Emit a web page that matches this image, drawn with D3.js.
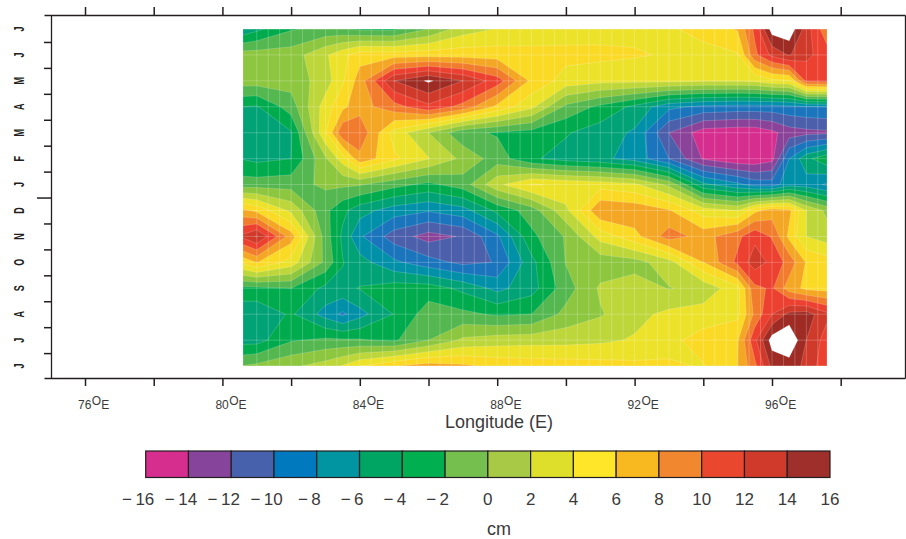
<!DOCTYPE html>
<html>
<head>
<meta charset="utf-8">
<script src="https://cdn.jsdelivr.net/npm/d3@7"></script>
<style>
body { margin: 0; background: #fff; }
text { font-family: "Liberation Sans", sans-serif; fill: #3a3a3a; }
</style>
</head>
<body>
<div id="chart"></div>
<script>
// longitude of each grid column (degrees E)
var lons = [80.6, 81, 82, 83, 83.5, 84, 85, 86, 87, 88, 89, 90, 91, 92, 93, 94, 95, 95.5, 96, 96.5, 97, 97.6];

// sea level anomaly in cm, one row per month
var jul2 = [-7.5, -6.5, -4.2, -3.5, -3.7, -4.4, -4.5, -2, 1, 2.1, 2.5, 3, 3.2, 3.5, 3.8, 4.5, 6.2, 10.5, 17, 17.5, 13, 8.5];
var jun2 = [-1, -1, -1, 1.7, 3.4, 5.2, 5.1, 5.2, 5.2, 5, 4.8, 4.6, 4.5, 4.2, 3.8, 3.5, 3.8, 9.5, 12.5, 14.2, 12.5, 11];
var may = [-1, -1, -1.2, 1, 3.7, 7, 14, 16.3, 14, 11, 5.5, 3.2, 2.6, 2.5, 2.5, 2.2, 2.2, 2.4, 3.5, 3.8, 10.5, 10.8];
var apr = [-6, -6.2, -3, 3, 5.5, 7.2, 9.2, 11.5, 9.3, 5.5, 2.5, -2.5, -4.5, -6.5, -9.5, -10.5, -10.8, -10.8, -10.8, -10.5, -10.2, -10];
var mar = [-6.8, -6.8, -6.2, 3.8, 9.6, 9.5, 3.2, 0, -3.5, -4.2, -4.8, -5.8, -7, -8.3, -14, -17, -17.4, -17.4, -16.5, -15, -14.6, -14.4];
var feb = [-6.1, -6.5, -6, -0.3, 3, 7.4, 4.4, 2.1, -0.5, -3, -5.7, -6.8, -7.5, -8.8, -12, -16.2, -17.5, -17.5, -16.6, -10, -6.6, -4.5];
var jan = [-3, -3, -2.8, -1.6, -1.6, -1.8, -3.3, -4.5, -3, 1.5, 4.2, 3.6, 3.2, 2.4, -0.5, -7.5, -9.5, -10.8, -11, -8.8, -9, -10.3];
var dec = [6.5, 5.5, 1.5, -3.5, -5.5, -7.2, -9, -9.8, -8.8, -5.5, -3, 1.5, 7.8, 7.5, 6.2, 3, 2, 5.5, 7, 6.5, 2, -0.5];
var nov = [12.5, 14.2, 7, -3, -6.4, -9.7, -13, -14.8, -13.8, -10.4, -4.5, -1.8, 2.8, 5.3, 9, 7.2, 9.5, 11.5, 9.8, 5.5, 2, 1];
var oct = [4.5, 6.1, 3.2, -2.5, -5.9, -7.2, -9.6, -11.2, -12.5, -11.9, -6.6, -1.9, -1.2, -0.8, 1.2, 6, 10.5, 13, 11.5, 9.2, 5.8, 5];
var sep = [-4.5, -4.5, -4, -6.5, -6.5, -5.9, -5, -5, -6.5, -8.6, -6.8, -2.9, 0.3, 1, -0.1, 0.6, 3.4, 9.5, 10.3, 7, 5.5, 5.2];
var aug = [-7.5, -7.5, -5.7, -8.8, -10.4, -8.7, -5.9, -3, -3.5, -4.3, -4, -1.4, -0.2, 1.4, 2.5, 3, 3.5, 8.5, 12, 14.6, 15, 12.5];
var jul = [-6.8, -6.8, -4.2, -3.6, -3.7, -3.8, -4.3, -2, 0.4, 1, 1.2, 1.3, 1.6, 2.2, 3.5, 4.8, 5.8, 11.5, 17, 18, 14, 11];
var jun = [-1.9, -1.5, -0.4, 0.9, 2.2, 3.9, 5.9, 7, 6.4, 5.5, 5.2, 5, 4.8, 4.5, 4.2, 3.9, 6, 9.5, 14.5, 15, 13.5, 10.5];

// rows from the top of the plot down
var rows = [jul2, jun2, may, apr, mar, feb, jan, dec, nov, oct, sep, aug, jul, jun];

// month labels from the bottom of the plot up
var monthLabels = ["J", "J", "A", "S", "O", "N", "D", "J", "F", "M", "A", "M", "J", "J"];
var lonTicks = [76, 78, 80, 82, 84, 86, 88, 90, 92, 94, 96, 98];
var lonLabels = [76, 80, 84, 88, 92, 96];
var legendTicks = [-16, -14, -12, -10, -8, -6, -4, -2, 0, 2, 4, 6, 8, 10, 12, 14, 16];

// contour levels and fills of the map, white above the top level
var levels = [-18, -16, -14, -12, -10, -8, -6, -4, -2, 0, 2, 4, 6, 8, 10, 12, 14, 16];
var mapColors = ["#d62e8f", "#8a4398", "#4b5fab", "#1b75bc", "#0090a8", "#00a276", "#00ab4e", "#54b74f", "#8dc63f",
    "#bdd63a", "#ece22a", "#fbda26", "#f4a724", "#f27c2e", "#ec4130", "#d03a2a", "#9e2c25", "#ffffff"];
var legendColors = ["#d62e8f", "#86459a", "#4761ad", "#0079bf", "#0095a0", "#00a463", "#00af50", "#74bf4e",
    "#a8c945", "#dddf2a", "#ffe628", "#f8b81f", "#f1872e", "#ea472f", "#d03a2a", "#9e2f2a"];

var width = 906, height = 539;

var svg = d3.select("#chart").append("svg")
    .attr("width", width)
    .attr("height", height)
    .style("display", "block");

// scales of the plot frame
var x = d3.scaleLinear().domain([74.806, 99.872]).range([44, 905]);
var y = d3.scaleLinear().domain([-0.46, 13.54]).range([378, 15]);

// d3.contours puts value i at i + 0.5, so map grid coords to pixels through the scales
var nx = lons.length, ny = rows.length;
var gridX = d3.scaleLinear()
    .domain([0].concat(lons.map(function (d, i) { return i + 0.5; }), [nx]))
    .range([x(lons[0])].concat(lons.map(function (d) { return x(d); }), [x(lons[nx - 1])]));
var gridY = d3.scaleLinear()
    .domain([0].concat(rows.map(function (d, i) { return i + 0.5; }), [ny]))
    .range([y(ny - 1)].concat(rows.map(function (d, i) { return y(ny - 1 - i); }), [y(0)]));

var gridPath = d3.geoPath(d3.geoTransform({
    point: function (px, py) { this.stream.point(gridX(px), gridY(py)); }
}));

var contours = d3.contours().size([nx, ny]).thresholds(levels)(d3.merge(rows));

svg.append("g").selectAll("path")
    .data(contours)
    .enter()
    .append("path")
    .attr("d", gridPath)
    .attr("fill", function (d, i) { return mapColors[i]; })
    .attr("stroke", "#fff")
    .attr("stroke-opacity", 0.3)
    .attr("stroke-width", 0.6);

// faint grid over the map: every third of a degree and every month
var gridLons = d3.range(lons[0] + 0.4, lons[nx - 1], 1 / 3);
var gridLines = svg.append("g")
    .attr("stroke", "#fff")
    .attr("stroke-opacity", 0.22);
gridLines.selectAll(".v")
    .data(gridLons)
    .enter()
    .append("line")
    .attr("x1", function (d) { return x(d); })
    .attr("x2", function (d) { return x(d); })
    .attr("y1", y(13))
    .attr("y2", y(0));
gridLines.selectAll(".h")
    .data(monthLabels)
    .enter()
    .append("line")
    .attr("x1", x(lons[0]))
    .attr("x2", x(lons[nx - 1]))
    .attr("y1", function (d, i) { return y(i); })
    .attr("y2", function (d, i) { return y(i); });

// frame and ticks
function styleAxis(g) {
    g.selectAll("path,line").attr("stroke", "#231f20").attr("stroke-width", 1.5);
    g.selectAll(".domain").attr("stroke-width", 1.3);
    g.selectAll("text").remove();
}

svg.append("g")
    .attr("transform", "translate(0,378)")
    .call(d3.axisBottom(x).tickValues(lonTicks).tickSize(8).tickSizeOuter(0))
    .call(styleAxis);
svg.append("g")
    .attr("transform", "translate(0,15)")
    .call(d3.axisTop(x).tickValues(lonTicks).tickSize(8).tickSizeOuter(0))
    .call(styleAxis);
var monthTicks = d3.range(0.5, 13, 1);
svg.append("g")
    .attr("transform", "translate(51,0)")
    .call(d3.axisLeft(y).tickValues(monthTicks).tickSize(7).tickSizeOuter(0))
    .call(styleAxis)
    .selectAll(".tick line")
    .attr("x2", function (d) { return d === 6.5 ? -14 : -7; });
svg.append("g")
    .attr("transform", "translate(905,0)")
    .call(d3.axisRight(y).tickValues([]).tickSizeOuter(0))
    .call(styleAxis);

// sideways month letters
svg.append("g").selectAll("text")
    .data(monthLabels)
    .enter()
    .append("text")
    .attr("transform", function (d, i) { return "translate(23.5," + y(i) + ") rotate(-90) scale(0.6,1)"; })
    .attr("text-anchor", "middle")
    .attr("font-size", 15)
    .attr("font-weight", "bold")
    .style("fill", "#231f20")
    .text(function (d) { return d; });

// longitude labels with the raised O
var lonText = svg.append("g").selectAll("text")
    .data(lonLabels)
    .enter()
    .append("text")
    .attr("x", function (d) { return x(d) - 7; })
    .attr("y", 409)
    .attr("font-size", 12);
lonText.append("tspan").text(function (d) { return d; });
lonText.append("tspan").attr("dy", -4).attr("dx", 0.5).text("O");
lonText.append("tspan").attr("dy", 4).text("E");

svg.append("text")
    .attr("x", 499)
    .attr("y", 428)
    .attr("text-anchor", "middle")
    .attr("font-size", 18)
    .text("Longitude (E)");

// colour bar
var legendX = d3.scaleLinear().domain([-16, 16]).range([145.7, 830]);

svg.append("g").selectAll("rect")
    .data(legendColors)
    .enter()
    .append("rect")
    .attr("x", function (d, i) { return legendX(legendTicks[i]); })
    .attr("y", 451)
    .attr("width", function (d, i) { return legendX(legendTicks[i + 1]) - legendX(legendTicks[i]); })
    .attr("height", 26.5)
    .attr("fill", function (d) { return d; })
    .attr("stroke", "#231f20")
    .attr("stroke-width", 1.2);

svg.append("g").selectAll("text")
    .data(legendTicks)
    .enter()
    .append("text")
    .attr("x", function (d) { return legendX(d) + (d < 0 ? -7.5 : 0); })
    .attr("y", 505)
    .attr("text-anchor", "middle")
    .attr("font-size", 17)
    .text(function (d) { return d < 0 ? "\u2212\u2009" + (-d) : d; });

svg.append("text")
    .attr("x", 499)
    .attr("y", 535)
    .attr("text-anchor", "middle")
    .attr("font-size", 18)
    .text("cm");
</script>
</body>
</html>
